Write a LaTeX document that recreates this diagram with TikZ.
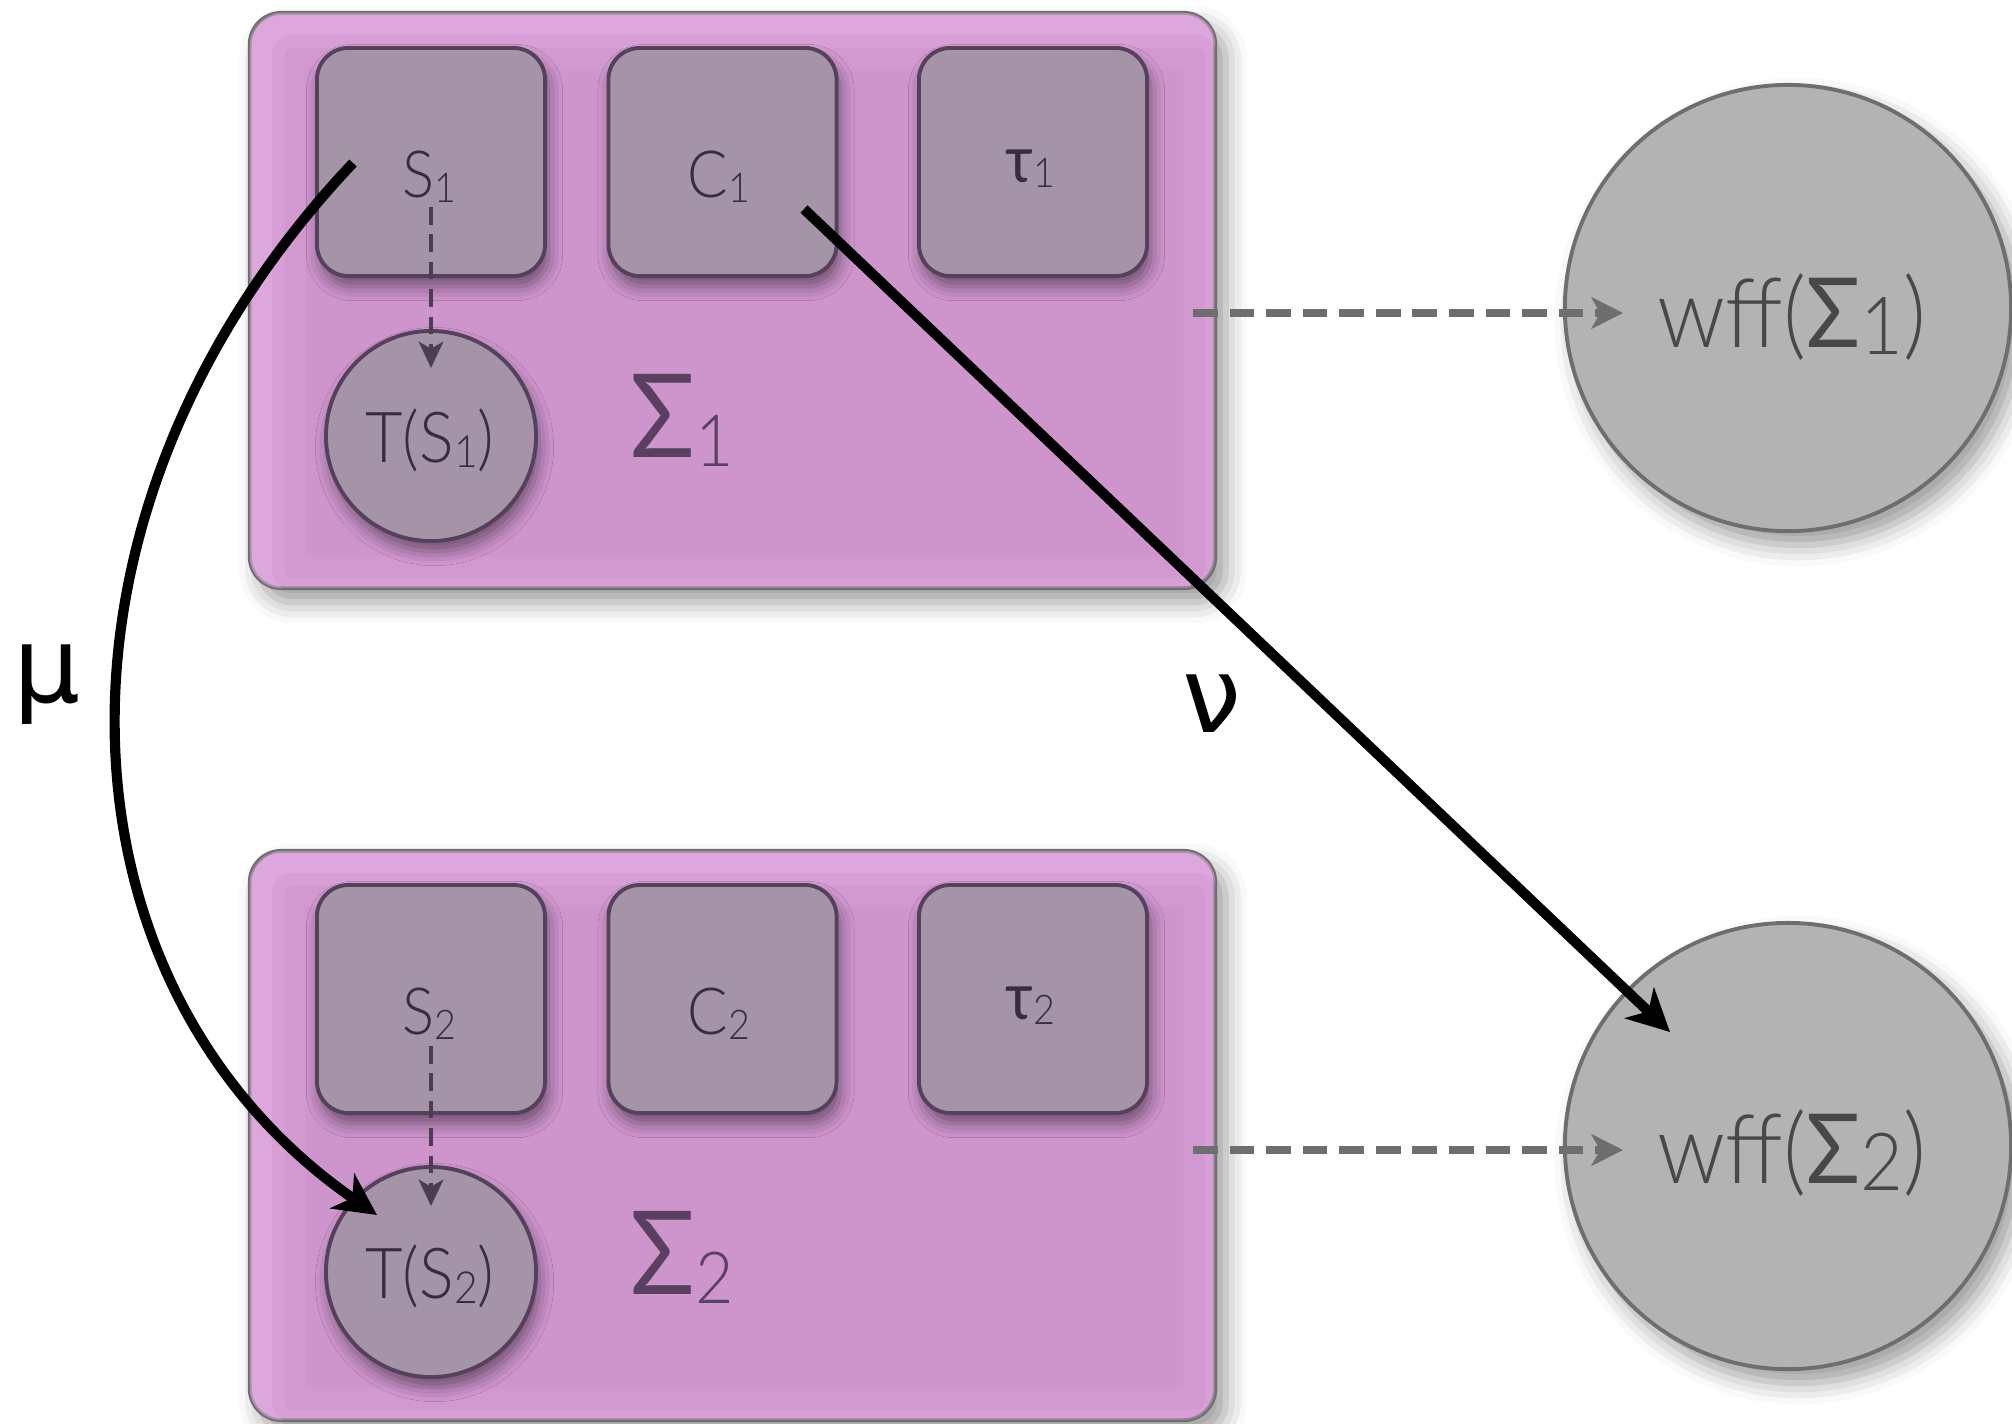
\documentclass[tikz,border=0pt]{standalone}
\usepackage{fontspec}
\setmainfont[FakeStretch=0.92, UprightFont={Lato Light}, BoldFont={Lato}]{Lato}
\newfontfamily\greekletters{DejaVu Sans}
\usetikzlibrary{arrows.meta,shadows.blur}

\definecolor{sigfill}{HTML}{CE95CD}
\definecolor{sigglow}{HTML}{F2BDF2}
\definecolor{sigline}{HTML}{6E6E6E}
\definecolor{partfill}{HTML}{A593A8}
\definecolor{partline}{HTML}{54415A}
\definecolor{parttext}{HTML}{3A2B3F}
\definecolor{sigtext}{HTML}{5A4060}
\definecolor{wfffill}{HTML}{B3B3B3}
\definecolor{wffline}{HTML}{6E6E6E}
\definecolor{wfftext}{HTML}{484848}
\definecolor{mapdash}{HTML}{6E6E6E}
\definecolor{termdash}{HTML}{4C3E50}

% lowered, shrunk index
\newcommand\lowidx[2][0.63]{\raisebox{-0.08em}{\scalebox{#1}{#2}}}

\begin{document}
\begin{tikzpicture}[x=0.01cm, y=-0.01cm,
  sigbox/.style={draw=sigline, line width=1.1pt, fill=sigfill, rounded corners=9pt,
    inner sep=0pt,
    blur shadow={shadow xshift=3pt, shadow yshift=-4pt, shadow blur radius=6pt, shadow opacity=40}},
  partbox/.style={draw=partline, line width=1.1pt, fill=partfill, rounded corners=9pt,
    minimum width=2.28cm, minimum height=2.28cm, inner sep=0pt,
    blur shadow={shadow xshift=1pt, shadow yshift=-3pt, shadow blur radius=4pt, shadow opacity=45}},
  termcirc/.style={circle, draw=partline, line width=1.1pt, fill=partfill,
    minimum size=2.1cm, inner sep=0pt,
    blur shadow={shadow xshift=1pt, shadow yshift=-3pt, shadow blur radius=4pt, shadow opacity=45}},
  wffcirc/.style={circle, draw=wffline, line width=1.1pt, fill=wfffill,
    minimum size=4.46cm, inner sep=0pt,
    blur shadow={shadow xshift=3pt, shadow yshift=-4pt, shadow blur radius=6pt, shadow opacity=40}},
  parttxt/.style={anchor=base, text=parttext, font=\fontsize{18.5}{20}\selectfont, inner sep=0pt},
  termtxt/.style={anchor=base, text=parttext, font=\fontsize{20}{22}\selectfont, inner sep=0pt},
  siglabel/.style={anchor=base west, text=sigtext, font=\fontsize{33}{36}\selectfont, inner sep=0pt},
  wfftxt/.style={anchor=base, text=wfftext, font=\fontsize{27.5}{30}\selectfont, inner sep=0pt},
  maplabel/.style={anchor=base, font=\greekletters\fontsize{30}{34}\selectfont, inner sep=0pt},
  maparrow/.style={line width=2.9pt, -{Stealth[length=12pt,width=12pt,inset=3.5pt]}},
  gendash/.style={draw=mapdash, line width=2.2pt, dash pattern=on 7pt off 3.4pt,
    -{Stealth[length=9pt,width=9pt,inset=2.5pt]}},
  termarrow/.style={draw=termdash, line width=1.1pt, dash pattern=on 5pt off 2.8pt,
    -{Stealth[length=7.5pt,width=7pt,inset=2pt]}},
  glow/.style={draw=sigglow, rounded corners=9pt}
]
\useasboundingbox (0,0) rectangle (2012,1423);

% signatures
\node[sigbox, minimum width=9.65cm, minimum height=5.75cm] (sig1) at (732.5,300.5) {};
\node[sigbox, minimum width=9.65cm, minimum height=5.69cm] (sig2) at (732.5,1135.5) {};

% soft light rim along the upper and left inner edges
\foreach \sig in {sig1,sig2}{
  \begin{scope}
    \clip[rounded corners=9pt] ([shift={(2,2)}]\sig.north west) rectangle ([shift={(-2,-2)}]\sig.south east);
    \draw[glow, line width=26pt, opacity=0.12] ([shift={(12,12)}]\sig.north west) rectangle ([shift={(12,12)}]\sig.south east);
    \draw[glow, line width=14pt, opacity=0.18] ([shift={(12,12)}]\sig.north west) rectangle ([shift={(12,12)}]\sig.south east);
    \draw[glow, line width=7pt, opacity=0.25] ([shift={(12,12)}]\sig.north west) rectangle ([shift={(12,12)}]\sig.south east);
  \end{scope}
}

% components of the first signature
\node[partbox] (s1) at (431,162) {};
\node[partbox] (c1) at (722.5,162) {};
\node[partbox] (tau1) at (1033,162) {};
\node[termcirc] (ts1) at (431,436) {};
\node[parttxt] (s1t) at (429,197) {S\lowidx{1}};
\node[parttxt] (c1t) at (719,197) {C\lowidx{1}};
\node[parttxt] (tau1t) at (1030,182) {\textbf{τ}\lowidx{1}};
\node[termtxt] (ts1t) at (430,462) {T(S\lowidx{1})};
\node[siglabel] (sig1t) at (630,457) {\textbf{Σ}\lowidx[0.62]{1}};

% components of the second signature
\node[partbox] (s2) at (431,999) {};
\node[partbox] (c2) at (722.5,999) {};
\node[partbox] (tau2) at (1033,999) {};
\node[termcirc] (ts2) at (431,1272) {};
\node[parttxt] (s2t) at (429,1034) {S\lowidx{2}};
\node[parttxt] (c2t) at (719,1034) {C\lowidx{2}};
\node[parttxt] (tau2t) at (1030,1019) {\textbf{τ}\lowidx{2}};
\node[termtxt] (ts2t) at (430,1298) {T(S\lowidx{2})};
\node[siglabel] (sig2t) at (630,1294) {\textbf{Σ}\lowidx[0.62]{2}};

% sets of well-formed formulas
\node[wffcirc] (wff1) at (1788,308) {};
\node[wffcirc] (wff2) at (1788,1146) {};
\node[wfftxt] (wff1t) at (1792,347) {wff(\textbf{Σ}\lowidx[0.83]{1})};
\node[wfftxt] (wff2t) at (1792,1183) {wff(\textbf{Σ}\lowidx[0.83]{2})};

% connector end points
\coordinate (t1s) at (431,207);
\coordinate (t1e) at (431,368);
\coordinate (t2s) at (431,1046);
\coordinate (t2e) at (431,1206);
\coordinate (d1s) at (1193,313);
\coordinate (d1e) at (1623,313);
\coordinate (d2s) at (1193,1150);
\coordinate (d2e) at (1623,1150);
\coordinate (mus) at (353,163);
\coordinate (mue) at (377,1215);
\coordinate (nus) at (804,209);
\coordinate (nue) at (1670,1032);

% sorts to terms
\draw[termarrow] (t1s) -- (t1e);
\draw[termarrow] (t2s) -- (t2e);

% signatures to formulas
\draw[gendash] (d1s) -- (d1e);
\draw[gendash] (d2s) -- (d2e);

% the two maps
\draw[maparrow] (mus) .. controls (25,510) and (45,985) .. (mue);
\draw[maparrow] (nus) -- (nue);
\node[maplabel] (mu) at (47,702) {μ};
\node[maplabel] (nu) at (1212,732) {ν};
\end{tikzpicture}
\end{document}
